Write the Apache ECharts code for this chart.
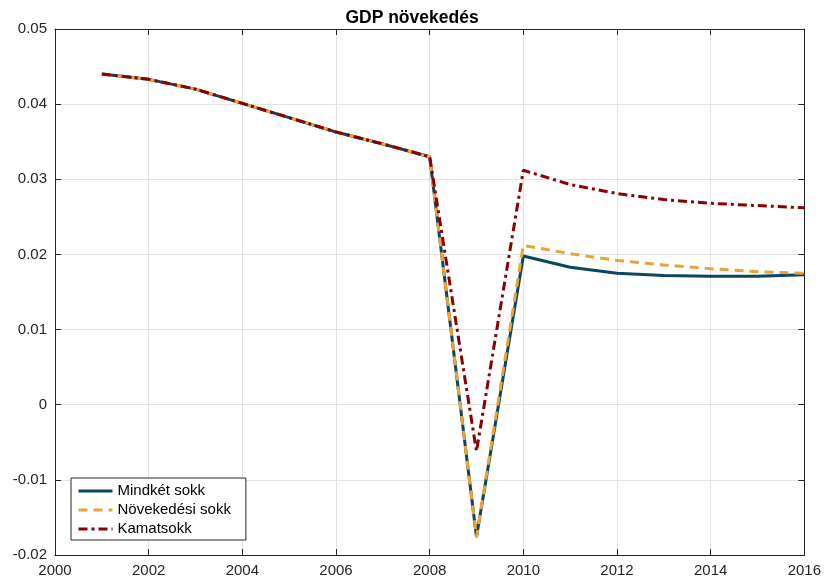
<!DOCTYPE html>
<html><head><meta charset="utf-8">
<script src="https://cdn.jsdelivr.net/npm/echarts@6/dist/echarts.min.js"></script>
<style>html,body{margin:0;padding:0;background:#fff}#c{width:824px;height:580px}</style>
</head><body><div id="c"></div>
<script>
const years = [2001,2002,2003,2004,2005,2006,2007,2008,2009,2010,2011,2012,2013,2014,2015,2016];
const mindket = [0.0440,0.0433,0.0420,0.0401,0.0382,0.0363,0.0347,0.0330,-0.0176,0.0198,0.0183,0.0175,0.0172,0.0171,0.0171,0.0173];
const novekedesi = [0.0440,0.0433,0.0420,0.0401,0.0382,0.0363,0.0347,0.0330,-0.0176,0.0212,0.0201,0.0192,0.0186,0.0181,0.0177,0.0175];
const kamat = [0.0440,0.0433,0.0420,0.0401,0.0382,0.0363,0.0347,0.0330,-0.0062,0.0312,0.0293,0.0281,0.0273,0.0268,0.0265,0.0262];
const seriesNames = ['Mindkét sokk','Növekedési sokk','Kamatsokk'];
const yTicks = ['-0.02','-0.01','0','0.01','0.02','0.03','0.04','0.05'];

const font = 'Liberation Sans, Arial, Helvetica, sans-serif';
const axisCol = '#262626';
const chart = echarts.init(document.getElementById('c'));
const pairs = v => years.map((y,i)=>[y,v[i]]);
const baseAxis = {
  axisLine:{show:true,onZero:false,lineStyle:{color:axisCol,width:1}},
  axisTick:{show:true,inside:true,length:6,lineStyle:{color:axisCol}},
  splitLine:{show:false}
};
chart.setOption({
  animation:false,
  title:{text:'GDP növekedés',left:'center',top:4,textStyle:{fontFamily:font,fontSize:17.5,fontWeight:'bold',color:'#000'}},
  grid:{left:55,right:18,top:29,bottom:25,show:false},
  xAxis:[
    Object.assign({},baseAxis,{type:'value',min:2000,max:2016,interval:2,position:'bottom',
      axisLabel:{fontFamily:font,fontSize:15,color:axisCol,margin:8,formatter:v=>String(v)},
      splitLine:{show:true,lineStyle:{color:'#e3e3e3',width:1}}}),
    Object.assign({},baseAxis,{type:'value',min:2000,max:2016,interval:2,position:'top',axisLabel:{show:false}})
  ],
  yAxis:[
    Object.assign({},baseAxis,{type:'value',min:-0.02,max:0.05,interval:0.01,position:'left',
      axisLabel:{fontFamily:font,fontSize:15,color:axisCol,margin:8,formatter:(v)=>{const i=Math.round((v+0.02)/0.01);return yTicks[i];}},
      splitLine:{show:true,lineStyle:{color:'#e3e3e3',width:1}}}),
    Object.assign({},baseAxis,{type:'value',min:-0.02,max:0.05,interval:0.01,position:'right',axisLabel:{show:false}})
  ],
  legend:{
    orient:'vertical',left:71,top:478,
    backgroundColor:'#fff',borderColor:'#262626',borderWidth:1,borderRadius:0,
    padding:[4,15,2,6],itemGap:1,itemWidth:34,itemHeight:14,
    itemStyle:{opacity:0},
    lineStyle:{width:3},
    textStyle:{fontFamily:font,fontSize:15,color:'#000',lineHeight:18},
    data:seriesNames
  },
  series:[
    {name:seriesNames[0],type:'line',data:pairs(mindket),showSymbol:false,symbol:'none',
      lineStyle:{color:'#0b4660',width:3},itemStyle:{color:'#0b4660'}},
    {name:seriesNames[1],type:'line',data:pairs(novekedesi),showSymbol:false,symbol:'none',
      lineStyle:{color:'#eba23b',width:3,type:[9,6]},itemStyle:{color:'#eba23b'}},
    {name:seriesNames[2],type:'line',data:pairs(kamat),showSymbol:false,symbol:'none',
      lineStyle:{color:'#8b0000',width:3,type:[9,4,3,4]},itemStyle:{color:'#8b0000'}}
  ]
});
</script></body></html>
